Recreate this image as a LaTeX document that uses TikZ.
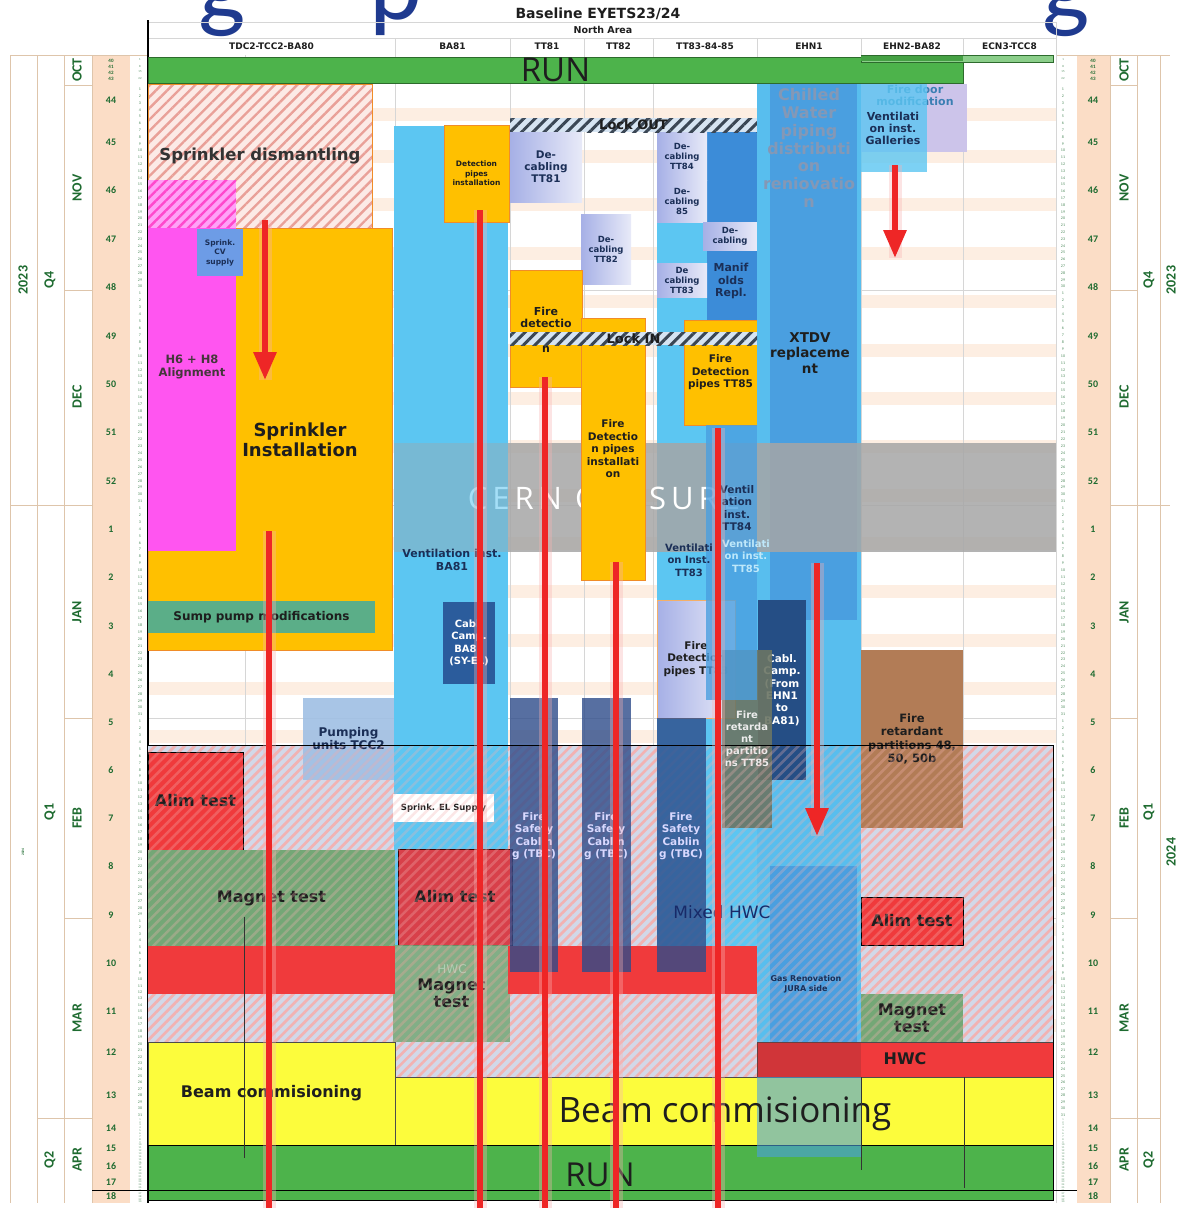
\documentclass[tikz,border=0pt]{standalone}
\usepackage{fontspec}
\setmainfont{DejaVu Sans}
\newfontfamily\calfont{Carlito}
\newfontfamily\segfont{Open Sans}
\newfontfamily\closurefont[LetterSpace=16]{Open Sans}
\usepackage{tikz}
\usetikzlibrary{arrows.meta,patterns.meta}
\definecolor{titleBlue}{HTML}{1F3A8F}
\definecolor{runGreen}{HTML}{4DB34B}
\definecolor{runDark}{HTML}{2D6B2D}
\definecolor{sprOrange}{HTML}{FFC000}
\definecolor{sprEdge}{HTML}{F08C28}
\definecolor{alignPink}{HTML}{FF55F0}
\definecolor{cvBlue}{HTML}{6D9CE6}
\definecolor{ventBlue}{HTML}{5CC6F2}
\definecolor{midBlue}{HTML}{4A9FE0}
\definecolor{manBlue}{HTML}{3C8CD8}
\definecolor{campNavy}{HTML}{2B5C9C}
\definecolor{cableNavy}{HTML}{2E4C8A}
\definecolor{lavA}{HTML}{A6B0E6}
\definecolor{lavB}{HTML}{E8EAF8}
\definecolor{doorLav}{HTML}{CCC4EA}
\definecolor{retBrown}{HTML}{B27C56}
\definecolor{retGrey}{HTML}{6B7564}
\definecolor{alimRed}{HTML}{F03A3C}
\definecolor{alimDark}{HTML}{D8404A}
\definecolor{magGreen}{HTML}{74A776}
\definecolor{beamYellow}{HTML}{FCFC3C}
\definecolor{sumpTeal}{HTML}{5BAE88}
\definecolor{pumpBlue}{HTML}{9FBFE4}
\definecolor{closeGrey}{HTML}{A6A6A6}
\definecolor{axisGreen}{HTML}{1E6B30}
\definecolor{weekPeach}{HTML}{FBDDC6}
\definecolor{stripePeach}{HTML}{FDEEE2}
\definecolor{gridGrey}{HTML}{D6D6D6}
\definecolor{hatchBg}{HTML}{D2D8E8}
\definecolor{hatchLine}{HTML}{F2B2B2}
\definecolor{dismBg}{HTML}{FCEAE6}
\definecolor{dismLine}{HTML}{E9A098}
\definecolor{lockBg}{HTML}{D6E4F2}
\definecolor{lockLine}{HTML}{3A4654}
\definecolor{markRed}{HTML}{EE2626}
\definecolor{textNavy}{HTML}{1B2F57}
\definecolor{chillText}{HTML}{8498B6}
\definecolor{inkDark}{HTML}{1E1E1E}
\newcommand{\fs}[2]{\fontsize{#1}{#2}\selectfont}
\newcommand{\taskbox}[7]{\node[box,#1,minimum width={(#5)-(#3)},minimum height={(#6)-(#4)}] (#2) at (#3,#4) {#7};}

\begin{document}
\begin{tikzpicture}[x=1pt, y=-1pt,
  box/.style={inner sep=0pt, outer sep=0pt, anchor=north west, align=center, text=inkDark},
  lbl/.style={inner sep=0pt, align=center, text=inkDark, font=\bfseries\fs{10.5}{12.5}},
  titlefrag/.style={inner sep=0pt, anchor=base, text=titleBlue, font=\calfont\fs{100}{100}},
  hdr/.style={inner sep=0pt, text=inkDark, font=\bfseries\fs{9}{10}},
  month/.style={inner sep=0pt, rotate=90, text=axisGreen, font=\calfont\bfseries\fs{14}{14}},
  weekno/.style={inner sep=0pt, text=axisGreen, font=\calfont\bfseries\fs{10}{10}},
  dayno/.style={inner sep=0pt, text=axisGreen!80, font=\calfont\fs{4}{4}},
  tinyno/.style={inner sep=0pt, text=axisGreen!80, font=\calfont\fs{2.6}{2.6}},
  axisline/.style={draw=gridGrey!80!orange, line width=0.5pt},
  gridline/.style={draw=gridGrey, line width=0.6pt},
  orangebox/.style={fill=sprOrange, draw=sprEdge, line width=0.8pt, font=\bfseries\fs{10.5}{12.5}},
  lav/.style={left color=lavA, right color=lavB, font=\bfseries\fs{8.5}{10}, text=textNavy},
  dism/.style={preaction={fill=dismBg}, pattern={Lines[angle=45,distance=8pt,line width=2.4pt]}, pattern color=dismLine, draw=sprEdge, line width=1pt},
  pinkhatch/.style={preaction={fill=alignPink!55}, pattern={Lines[angle=45,distance=7pt,line width=2.4pt]}, pattern color=alignPink!85!red},
  lockhatch/.style={preaction={fill=lockBg}, pattern={Lines[angle=45,distance=8pt,line width=3pt]}, pattern color=lockLine, font=\bfseries\fs{13}{13}},
  lowhatch/.style={preaction={fill=hatchBg}, pattern={Lines[angle=45,distance=7pt,line width=2.6pt]}, pattern color=hatchLine},
  testbox/.style={fill=alimRed, draw=black, line width=0.8pt, font=\bfseries\fs{16}{17}},
  magbox/.style={fill=magGreen, font=\bfseries\fs{16}{17}},
  cable/.style={fill=cableNavy, fill opacity=.8, text opacity=1},
  redline/.style={draw=markRed, line width=6pt, preaction={draw=markRed!35, line width=13pt, opacity=.35, -}},
  redarrow/.style={redline, -{Triangle[length=28pt,width=22pt]}}
]
\fill[white] (0,0) rectangle (1179,1208);
\useasboundingbox (0,0) rectangle (1179,1208);
\node[titlefrag] (ttlA) at (222,19) {g};
\node[titlefrag] (ttlB) at (396,19) {p};
\node[titlefrag] (ttlC) at (1066,19) {g};

\fill[weekPeach] (92,55) rectangle (130,1203);
\fill[weekPeach] (1077,55) rectangle (1110,1203);
\foreach \xa in {10,37,64,92,1110,1137,1160} \draw[axisline] (\xa,55) -- (\xa,1203);
\draw[axisline] (10,55) -- (148,55);
\draw[axisline] (1056,55) -- (1170,55);
\foreach \y in {85,290,505,718,918,1118} {\draw[axisline] (64,\y) -- (92,\y); \draw[axisline] (1110,\y) -- (1137,\y);}
\draw[axisline] (10,505) -- (64,505);
\draw[axisline] (1137,505) -- (1170,505);
\draw[axisline] (37,1118) -- (64,1118);
\draw[axisline] (1137,1118) -- (1160,1118);

\foreach \w in {100,142,190,239,287,336,384,432,481,529,577,626,674,722,770,818,866,915,963,1011} \fill[stripePeach] (148,{\w+8}) rectangle (1056,{\w+21});
\foreach \xa in {245,395,510,584,653,757,861,963} \draw[gridline] (\xa,55) -- (\xa,1200);
\foreach \xa in {395,510,584,653,757,861,963} \draw[gridline] (\xa,38) -- (\xa,55);
\foreach \y in {290,505,718,918} \draw[gridline] (148,\y) -- (1056,\y);
\draw[gridline] (148,22) -- (1056,22);
\draw[gridline] (148,38) -- (1056,38);
\draw[gridline] (1056,22) -- (1056,1203);
\draw[black, line width=1.5pt] (148,20) -- (148,1203);

\node[hdr, font=\bfseries\fs{14}{15}] (baseline) at (598,14) {Baseline EYETS23/24};
\node[hdr, font=\bfseries\fs{9.5}{10}] (northArea) at (603,30) {North Area};
\foreach \cname/\xa/\xb [count=\i] in {TDC2-TCC2-BA80/148/395, BA81/395/510, TT81/510/584, TT82/584/653, TT83-84-85/653/757, EHN1/757/861, EHN2-BA82/861/963, ECN3-TCC8/963/1056}
  \node[hdr] (col\i) at ({(\xa+\xb)/2},46) {\cname};

\foreach \mname/\y in {OCT/70, NOV/188, DEC/397, JAN/612, FEB/818, MAR/1018, APR/1160} {
  \node[month] (ml\mname) at (77,\y) {\mname};
  \node[month] (mr\mname) at (1124,\y) {\mname};
}
\foreach \qname/\y in {Q4/280, Q1/812, Q2/1160} {
  \node[month] (ql\qname) at (50,\y) {\qname};
  \node[month] (qr\qname) at (1149,\y) {\qname};
}
\node[month] (yl2023) at (23,280) {2023};
\node[month] (yr2023) at (1171,280) {2023};
\node[month, font=\calfont\bfseries\fs{3.5}{3.5}] (yl2024) at (23,852) {2024};
\node[month] (yr2024) at (1171,852) {2024};
\foreach \w/\y in {44/100,45/142,46/190,47/239,48/287,49/336,50/384,51/432,52/481,1/529,2/577,3/626,4/674,5/722,6/770,7/818,8/866,9/915,10/963,11/1011,12/1052,13/1095,14/1128,15/1148,16/1166,17/1182,18/1196} {
  \node[weekno] (wl\w) at (111,\y) {\w};
  \node[weekno] (wr\w) at (1093,\y) {\w};
}
\foreach \w/\y in {40/61,41/67,42/73,43/79} {
  \node[weekno, font=\calfont\bfseries\fs{5}{5}] (wl\w) at (111,\y) {\w};
  \node[weekno, font=\calfont\bfseries\fs{5}{5}] (wr\w) at (1093,\y) {\w};
}
\foreach \d/\y in {1/60,8/66,15/72,22/79} {
  \node[dayno, font=\calfont\fs{3}{3}] (dlo\d) at (140,\y) {\d};
  \node[dayno, font=\calfont\fs{3}{3}] (dro\d) at (1063,\y) {\d};
}
\foreach \ys/\ye/\nd/\mo in {86/290/30/n, 290/505/31/d, 505/718/31/j, 718/918/29/f, 918/1118/31/m} {
  \foreach \d in {1,...,\nd} {
    \node[dayno] (dl\mo\d) at (140,{\ys+(\d-0.5)*(\ye-\ys)/\nd}) {\d};
    \node[dayno] (dr\mo\d) at (1063,{\ys+(\d-0.5)*(\ye-\ys)/\nd}) {\d};
  }
}
\foreach \d in {1,...,30} {
  \node[tinyno] (dla\d) at (140,{1118+(\d-0.5)*2.85}) {\d};
  \node[tinyno] (dra\d) at (1063,{1118+(\d-0.5)*2.85}) {\d};
}

\taskbox{lowhatch}{lowBg}{148}{745}{1053}{1145}{}
\taskbox{fill=runGreen, draw=runDark, line width=0.8pt, font=\segfont\fs{33}{33}}{runTop}{148}{57}{963}{83}{RUN}
\taskbox{fill=runGreen!65, draw=runDark, line width=0.8pt}{etsBar}{861}{55}{1053}{62}{}
\fill[runGreen!90!black] (861,56) rectangle (963,61);

\taskbox{dism, font=\bfseries\fs{16.5}{17}, text=black!80}{sprDis}{148}{84}{372}{228}{Sprinkler dismantling}
\taskbox{pinkhatch}{pinkDis}{148}{180}{236}{228}{}
\taskbox{fill=sprOrange, draw=sprEdge, line width=0.8pt}{sprInst}{148}{228}{392}{650}{}
\taskbox{fill=alignPink}{alignH}{148}{228}{236}{551}{}
\taskbox{fill=cvBlue, text=textNavy, font=\bfseries\fs{7.5}{9.5}}{cvSup}{197}{229}{243}{276}{Sprink.\\CV\\supply}
\taskbox{fill=sumpTeal, font=\bfseries\fs{12}{12}}{sump}{148}{601}{375}{633}{Sump pump modifications}

\taskbox{fill=ventBlue}{ventBA81}{394}{126}{508}{946}{}
\taskbox{orangebox, font=\bfseries\fs{7.5}{9.5}}{detPipes}{444}{125}{509}{222}{Detection\\pipes\\installation}
\taskbox{fill=campNavy, text=white, font=\bfseries\fs{10}{12.3}}{campBA81}{443}{602}{495}{684}{Cabl.\\Camp.\\BA81\\(SY-EL)}

\taskbox{fill=ventBlue}{ventTT}{657}{132}{757}{946}{}
\taskbox{fill=manBlue}{manif}{707}{132}{757}{320}{}
\taskbox{lav}{decTT84}{657}{132}{707}{180}{De-\\cabling\\TT84}
\taskbox{lav}{decEF}{657}{180}{707}{222}{De-\\cabling\\85}
\taskbox{lav}{decX}{703}{222}{757}{250}{De-\\cabling}
\taskbox{lav}{decTT83}{657}{263}{707}{297}{De\\cabling\\TT83}
\taskbox{lockhatch}{lockOut}{510}{118}{757}{132}{Lock OUT}
\taskbox{lav, font=\bfseries\fs{10.5}{12}}{decTT81}{510}{132}{582}{202}{De-\\cabling\\TT81}
\taskbox{lav}{decTT82}{581}{214}{631}{284}{De-\\cabling\\TT82}
\taskbox{orangebox}{fireDet81}{510}{270}{582}{387}{}
\taskbox{orangebox}{fireTT85}{684}{320}{757}{425}{Fire\\Detection\\pipes TT85}

\taskbox{fill=ventBlue!80!midBlue}{ehnLight}{757}{84}{861}{1042}{}
\taskbox{fill=midBlue}{chill}{770}{84}{857}{620}{}
\taskbox{fill=campNavy!85!black, text=white, font=\bfseries\fs{10.5}{12.3}}{campEHN1}{758}{600}{806}{780}{Cabl.\\Camp.\\(From\\EHN1\\to\\BA81)}
\taskbox{fill=midBlue}{gasReno}{770}{866}{857}{1042}{}

\taskbox{fill=doorLav}{fireDoor}{861}{84}{967}{152}{}
\node[lbl, font=\bfseries\fs{11}{12}, text=midBlue!80!black] (fireDoorT) at (915,95) {Fire door\\modification};
\taskbox{fill=ventBlue, fill opacity=.8}{ventGal}{861}{84}{927}{172}{}
\taskbox{fill=retBrown, font=\bfseries\fs{11.5}{13.5}}{retEHN2}{861}{650}{963}{828}{Fire\\retardant\\partitions 48,\\50, 50b}
\taskbox{lav, draw=sprEdge!70, font=\bfseries\fs{10.5}{12.5}, text=inkDark}{fireTT83}{657}{600}{735}{718}{Fire\\Detection\\pipes TT83}
\taskbox{fill=retGrey, fill opacity=.9, text opacity=1, text=white!85!gray, font=\bfseries\fs{10}{12}}{retTT85}{722}{650}{772}{828}{Fire\\retarda\\nt\\partitio\\ns TT85}

\taskbox{fill=closeGrey, fill opacity=.85}{closure}{394}{443}{1056}{552}{}
\node[inner sep=0pt, text=white, font=\closurefont\fs{31}{31}] (closureT) at (604,498) {CERN CLOSURE};
\fill[ventBlue, opacity=.55] (394,443) rectangle (508,552);
\taskbox{fill=midBlue, fill opacity=.8}{ventTTEF}{706}{425}{757}{700}{}
\taskbox{orangebox}{fireTT82}{581}{318}{645}{580}{Fire\\Detectio\\n pipes\\installati\\on}
\taskbox{lockhatch}{lockIn}{510}{332}{757}{345}{Lock IN}

\node[lbl, font=\bfseries\fs{18}{20}] (sprInstT) at (300,440) {Sprinkler\\Installation};
\node[lbl, font=\bfseries\fs{11.5}{13}, text=black!85!magenta] (alignT) at (192,367) {H6 + H8\\Alignment};
\node[lbl, font=\bfseries\fs{11}{12}] (fireDet81T) at (546,317) {Fire\\detectio};
\node[lbl, font=\bfseries\fs{11}{12}] (fireDet81N) at (546,349) {n};
\node[lbl, font=\bfseries\fs{11}{12.5}, text=textNavy] (manifT) at (731,281) {Manif\\olds\\Repl.};
\node[lbl, font=\bfseries\fs{16}{17.8}, text=chillText] (chillT) at (809,148) {Chilled\\Water\\piping\\distributi\\on\\reniovatio\\n};
\node[lbl, font=\bfseries\fs{13.5}{15.5}] (xtdvT) at (810,353) {XTDV\\replaceme\\nt};
\node[lbl, font=\bfseries\fs{11}{12}, text=textNavy] (ventGalT) at (893,128) {Ventilati\\on inst.\\Galleries};
\node[lbl, text=textNavy] (ventEFT) at (737,508) {Ventil\\ation\\inst.\\TT84};
\node[lbl, font=\bfseries\fs{10}{12.5}, text=textNavy] (ventTEFT) at (689,560) {Ventilati\\on Inst.\\TT83};
\node[lbl, font=\bfseries\fs{10}{12.5}, text=ventBlue!40!white] (ventTEFF) at (746,556) {Ventilati\\on inst.\\TT85};
\node[lbl, font=\bfseries\fs{11}{13}, text=textNavy] (ventBA81T) at (452,560) {Ventilation inst.\\BA81};

\taskbox{fill=pumpBlue, fill opacity=.9, text opacity=1, text=textNavy, font=\bfseries\fs{12}{13}}{pumpTCC2}{303}{698}{394}{780}{Pumping\\units TCC2}
\taskbox{testbox}{alimA}{148}{752}{243}{850}{Alim test}
\taskbox{magbox}{magA}{148}{850}{395}{946}{Magnet test}
\taskbox{fill=white, font=\bfseries\fs{8.5}{9}}{elSup}{393}{794}{494}{822}{Sprink. EL Supply}
\taskbox{testbox, fill=alimDark, draw=black!75!red}{alimB}{398}{849}{512}{945}{Alim test}
\taskbox{magbox, fill opacity=.85, text opacity=1}{magB}{393}{945}{510}{1042}{Magnet\\test}
\node[lbl, font=\fs{12}{12}, text=magGreen!55!white] (hwcFaint) at (452,969) {HWC};
\taskbox{testbox}{alimC}{861}{897}{963}{945}{Alim test}
\taskbox{magbox}{magC}{861}{994}{963}{1042}{Magnet\\test}
\fill[pattern={Lines[angle=45,distance=7pt,line width=2.6pt]}, pattern color=hatchLine, opacity=.3] (148,745) rectangle (1053,1042);
\taskbox{fill=alimRed}{hwcA}{148}{946}{395}{994}{}
\taskbox{fill=alimRed}{hwcB}{508}{946}{757}{994}{}
\taskbox{cable}{cabA}{510}{698}{558}{972}{}
\taskbox{cable}{cabB}{582}{698}{631}{972}{}
\taskbox{cable}{cabC}{657}{718}{706}{972}{}
\foreach \cx/\cn in {534/A, 606/B, 681/C}
  \node[lbl, text=white!85!blue] (cab\cn T) at (\cx,836) {Fire\\Safety\\Cablin\\g (TBC)};
\node[lbl, font=\fs{17}{17}, text=textNavy!90!blue] (mixedT) at (722,912) {Mixed HWC};
\node[lbl, font=\bfseries\fs{8}{10}, text=textNavy] (gasT) at (806,984) {Gas Renovation\\JURA side};
\taskbox{fill=beamYellow, draw=black!70, line width=0.8pt, font=\bfseries\fs{16}{16}}{beamA}{148}{1042}{395}{1145}{Beam commisioning}
\taskbox{fill=beamYellow, draw=black!70, line width=0.8pt}{beamB}{395}{1077}{1053}{1145}{}
\taskbox{fill=alimRed, draw=black!70, line width=0.8pt}{hwcC}{757}{1042}{1053}{1077}{}
\fill[alimDark!70!black, opacity=.35] (757,1042) rectangle (861,1077);
\node[lbl, font=\bfseries\fs{16}{16}] (hwcT) at (905,1059) {HWC};
\taskbox{fill=runGreen, draw=black, line width=0.8pt}{runBot}{148}{1145}{1053}{1200}{}
\taskbox{fill=midBlue, fill opacity=.6}{gasLow}{757}{1077}{861}{1157}{}
\node[lbl, font=\segfont\fs{35}{35}] (beamT) at (725,1114) {Beam commisioning};
\node[lbl, font=\segfont\fs{33}{33}] (runBotT) at (600,1175) {RUN};
\draw[black!80, line width=0.6pt] (244,917) -- (244,1158);
\draw[black!80, line width=0.6pt] (861,1077) -- (861,1170);
\draw[black!80, line width=0.6pt] (964,1077) -- (964,1188);
\draw[black, line width=0.8pt] (92,1190) -- (1077,1190);
\draw[black, line width=1pt] (148,745) -- (1053,745) -- (1053,1200);

\coordinate (mkA0) at (265,220); \coordinate (mkA1) at (265,380);
\coordinate (mkB0) at (269,531); \coordinate (mkB1) at (269,1214);
\coordinate (mkC0) at (480,210); \coordinate (mkC1) at (480,1214);
\coordinate (mkD0) at (545,377); \coordinate (mkD1) at (545,1214);
\coordinate (mkE0) at (616,562); \coordinate (mkE1) at (616,1214);
\coordinate (mkF0) at (718,428); \coordinate (mkF1) at (718,1214);
\coordinate (mkG0) at (817,563); \coordinate (mkG1) at (817,836);
\coordinate (mkH0) at (895,165); \coordinate (mkH1) at (895,258);
\draw[redarrow] (mkA0) -- (mkA1);
\draw[redline] (mkB0) -- (mkB1);
\draw[redline] (mkC0) -- (mkC1);
\draw[redline] (mkD0) -- (mkD1);
\draw[redline] (mkE0) -- (mkE1);
\draw[redline] (mkF0) -- (mkF1);
\draw[redarrow] (mkG0) -- (mkG1);
\draw[redarrow] (mkH0) -- (mkH1);
\end{tikzpicture}
\end{document}
